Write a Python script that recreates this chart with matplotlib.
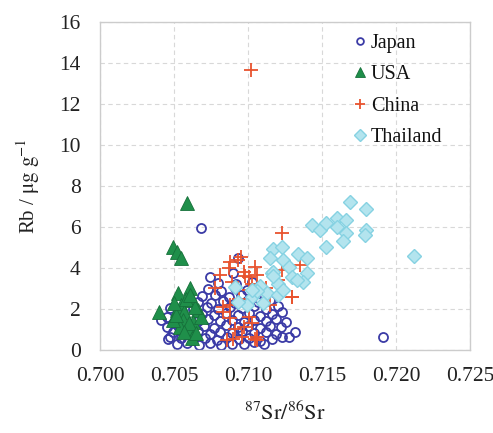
import matplotlib
matplotlib.use("Agg")
import matplotlib.pyplot as plt

plt.rcParams["font.family"] = ["Liberation Serif", "DejaVu Serif"]
plt.rcParams["mathtext.fontset"] = "stix"

# Japan (open circles)
japan_x = [0.7052, 0.7059, 0.7067, 0.7074, 0.7082, 0.7089, 0.7097, 0.7104, 0.7111,
           0.7046, 0.7055, 0.7063, 0.7071, 0.7079, 0.7086, 0.7094, 0.7101, 0.7108, 0.7116, 0.7123,
           0.7049, 0.7058, 0.7066, 0.7074, 0.7081, 0.7089, 0.7096, 0.7104, 0.7112, 0.7119, 0.7128, 0.7132,
           0.7045, 0.7053, 0.7062, 0.7070, 0.7077, 0.7085, 0.7093, 0.7100, 0.7108, 0.7115, 0.7122,
           0.7041, 0.7050, 0.7066, 0.7073, 0.7081, 0.7089, 0.7097, 0.7104, 0.7112, 0.7119, 0.7126,
           0.7045, 0.7054, 0.7069, 0.7077, 0.7085, 0.7093, 0.7101, 0.7108, 0.7116, 0.7123,
           0.7047, 0.7063, 0.7072, 0.7080, 0.7088, 0.7096, 0.7104, 0.7112, 0.7120,
           0.7066, 0.7075, 0.7083, 0.7091, 0.7099, 0.7107, 0.7115,
           0.7069, 0.7078, 0.7087, 0.7095, 0.7103, 0.7111,
           0.7073, 0.7082, 0.7091, 0.7099, 0.7107,
           0.7080, 0.7092, 0.7103,
           0.7074, 0.7090, 0.7093, 0.7068, 0.7191, 0.7047]
japan_y = [0.28, 0.35, 0.25, 0.32, 0.22, 0.30, 0.27, 0.38, 0.30,
           0.55, 0.60, 0.50, 0.58, 0.48, 0.62, 0.52, 0.57, 0.45, 0.55, 0.62,
           0.85, 0.80, 0.90, 0.78, 0.88, 0.82, 0.92, 0.80, 0.86, 0.78, 0.62, 0.88,
           1.12, 1.18, 1.05, 1.15, 1.08, 1.20, 1.10, 1.15, 1.05, 1.18, 1.10,
           1.45, 1.38, 1.42, 1.50, 1.40, 1.48, 1.36, 1.45, 1.40, 1.50, 1.35,
           1.62, 1.72, 1.75, 1.68, 1.78, 1.70, 1.80, 1.66, 1.74, 1.85,
           2.05, 2.00, 2.08, 1.98, 2.10, 2.02, 2.12, 2.00, 2.15,
           2.35, 2.30, 2.40, 2.28, 2.38, 2.32, 2.45,
           2.62, 2.70, 2.58, 2.68, 2.60, 2.72,
           2.95, 2.88, 3.00, 2.92, 3.05,
           3.25, 3.20, 3.30,
           3.55, 3.75, 4.50, 5.95, 0.65, 0.63]

# USA (filled triangles)
usa_x = [0.7059, 0.7049, 0.7052, 0.7055, 0.7040,
         0.7053, 0.7061, 0.7062, 0.7055, 0.7052, 0.7057, 0.7066, 0.7056, 0.7063,
         0.7054, 0.7060, 0.7062, 0.7068, 0.7049, 0.7058, 0.7064, 0.7051, 0.7060,
         0.7057, 0.7065, 0.7050, 0.7061]
usa_y = [7.17, 5.00, 4.80, 4.50, 1.85,
         2.80, 3.00, 2.45, 2.20, 1.95, 1.85, 1.95, 1.45, 1.35,
         1.10, 1.00, 0.60, 1.60, 1.45, 2.50, 2.10, 1.70, 1.30,
         0.85, 0.80, 2.30, 2.70]

# China (crosses)
china_x = [0.7102, 0.7123, 0.7130, 0.7095, 0.7088, 0.7081, 0.7097, 0.7101, 0.7106,
           0.7103, 0.7135, 0.7123, 0.7093, 0.7087, 0.7098, 0.7105, 0.7089, 0.7088,
           0.7083, 0.7091, 0.7096, 0.7103, 0.7106, 0.7083, 0.7088, 0.7101, 0.7086,
           0.7106, 0.7130, 0.7120, 0.7101, 0.7097, 0.7090, 0.7105, 0.7112, 0.7078,
           0.7094, 0.7115]
china_y = [13.65, 5.70, 2.60, 4.55, 4.30, 3.65, 3.80, 3.55, 3.65,
           3.20, 4.15, 3.90, 4.40, 4.00, 3.60, 4.05, 3.30, 2.20,
           1.85, 1.00, 0.65, 1.30, 0.65, 2.10, 1.55, 1.60, 0.50,
           0.50, 2.60, 3.40, 2.90, 1.10, 0.55, 0.55, 3.00, 3.00,
           2.50, 2.20]

# Thailand (diamonds)
thai_x = [0.7169, 0.7180, 0.7143, 0.7149, 0.7153, 0.7160, 0.7166, 0.7166, 0.7164,
          0.7160, 0.7180, 0.7179, 0.7153, 0.7212,
          0.7117, 0.7123, 0.7134, 0.7140, 0.7115, 0.7124, 0.7128, 0.7140, 0.7137,
          0.7116, 0.7108, 0.7113, 0.7120, 0.7120, 0.7103, 0.7099, 0.7130,
          0.7091, 0.7106, 0.7093, 0.7117, 0.7110, 0.7103, 0.7133, 0.7124, 0.7117]
thai_y = [7.20, 6.90, 6.10, 5.85, 6.20, 6.45, 6.35, 5.70, 5.30,
          6.00, 5.85, 5.60, 5.00, 4.58,
          4.90, 5.00, 4.70, 4.50, 4.50, 4.40, 4.05, 3.75, 3.30,
          3.75, 3.10, 2.80, 3.20, 2.70, 2.60, 2.20, 3.55,
          3.07, 2.85, 2.35, 3.80, 2.30, 2.90, 3.40, 2.90, 3.60]

fig = plt.figure(figsize=(4.93, 4.33), dpi=100)
ax = fig.add_axes([0.203, 0.192, 0.750, 0.757])

ax.plot(japan_x, japan_y, "o", ms=6.5, mfc="none", mec="#3b3ba6", mew=1.3,
        ls="none", label="Japan")
ax.plot(usa_x, usa_y, "^", ms=9.5, mfc="#1f8f4a", mec="#16703a", mew=0.6,
        ls="none", label="USA")
ax.plot(china_x, china_y, "+", ms=10, mec="#e8532e", mew=1.3,
        ls="none", label="China")
ax.plot(thai_x, thai_y, "D", ms=7.5, mfc="#b3e4ee", mec="#86d2e2", mew=1.0,
        ls="none", label="Thailand")

ax.set_xlim(0.700, 0.725)
ax.set_ylim(0, 16)
ax.set_xticks([0.700, 0.705, 0.710, 0.715, 0.720, 0.725])
ax.set_xticklabels(["0.700", "0.705", "0.710", "0.715", "0.720", "0.725"])
ax.set_yticks(range(0, 17, 2))
ax.tick_params(length=0, labelsize=15.5, colors="#222222")
ax.tick_params(axis="x", pad=12)
ax.tick_params(axis="y", pad=14)

ax.grid(True, ls=(0, (4, 3)), color="#d8d8d8", lw=0.8)
ax.set_axisbelow(True)
for s in ax.spines.values():
    s.set_color("#cccccc")
    s.set_linewidth(1.0)

ax.set_xlabel(r"$^{87}\mathrm{Sr}/^{86}\mathrm{Sr}$", fontsize=16, labelpad=12,
              color="#222222")
ax.set_ylabel(r"Rb / $\mathrm{\mu g\ g^{-1}}$", fontsize=15, labelpad=12,
              color="#222222")

leg = ax.legend(loc="upper left", bbox_to_anchor=(0.645, 1.0), frameon=False,
                fontsize=14.5, handletextpad=0.1, handlelength=0.9,
                labelspacing=0.6, markerscale=0.75, borderaxespad=0.2)
for t in leg.get_texts():
    t.set_color("#111111")

fig.savefig("out.png", dpi=100, facecolor="white")
